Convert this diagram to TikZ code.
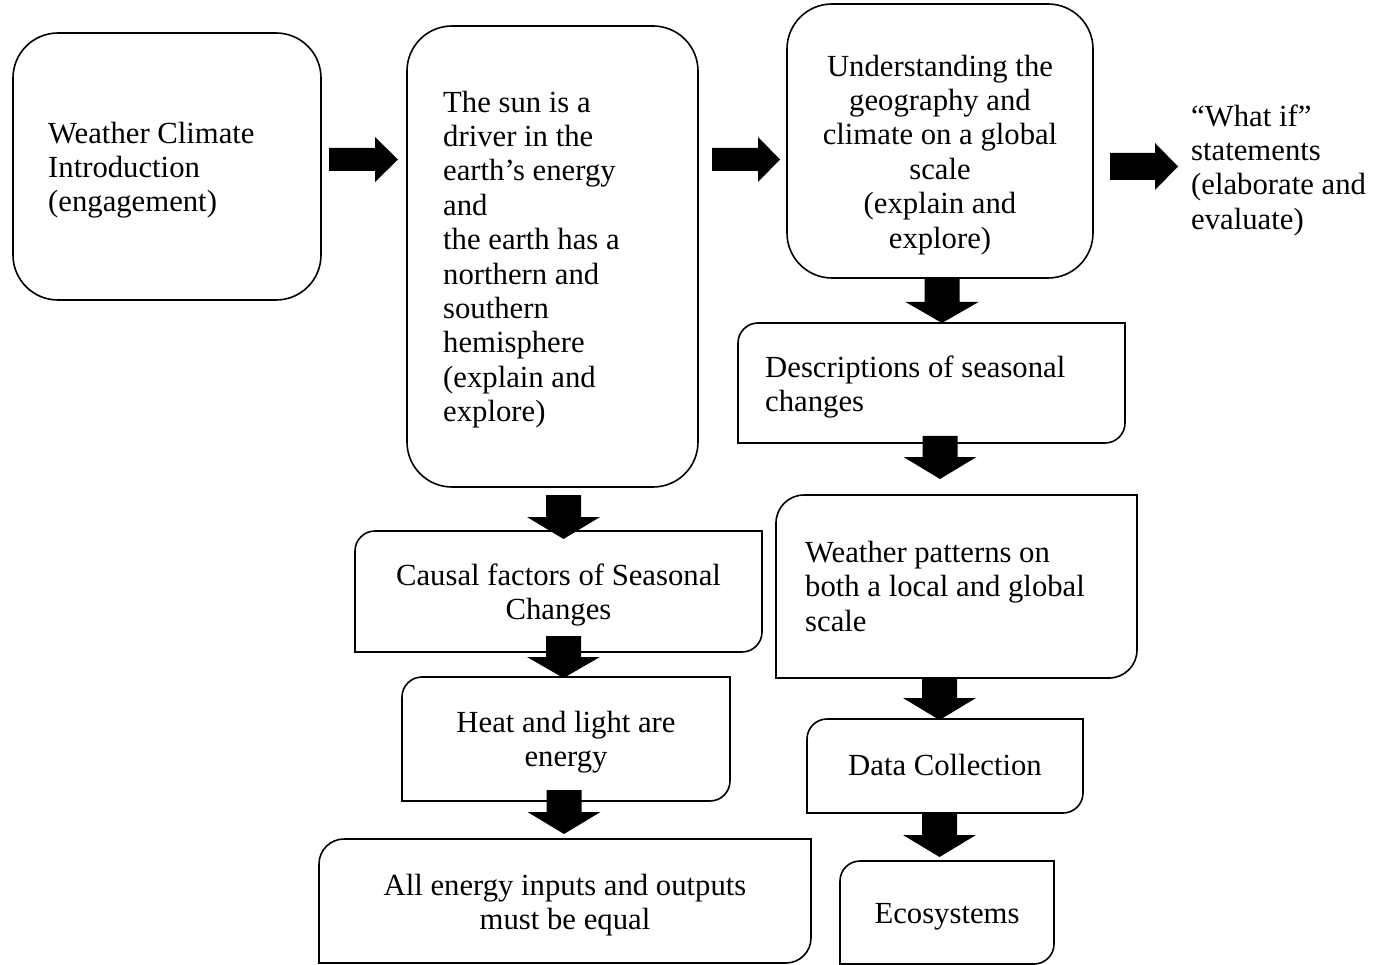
\documentclass[tikz,border=0pt]{standalone}
\usepackage{fontspec}
\setmainfont{Liberation Serif}
\tikzset{
  boxline/.style={draw=black, line width=1.6pt},
  txt/.style={inner sep=0pt, font=\fontsize{30.7}{34.4}\selectfont, text=black},
  arrowfill/.style={fill=black},
}
% box with rounded top-left and bottom-right corners
\newcommand\diagbox[5]{%
  \draw[boxline] (#1,#4) -- (#1,{#2+#5}) .. controls (#1,{#2+0.448*#5}) and ({#1+0.448*#5},#2) .. ({#1+#5},#2)
    -- (#3,#2) -- (#3,{#4-#5}) .. controls (#3,{#4-0.448*#5}) and ({#3-0.448*#5},#4) .. ({#3-#5},#4) -- cycle;}
% block arrow pointing down: xc, ytop, yhead, ytip
\newcommand\blkdown[4]{%
  \fill[arrowfill] ({#1-17.5},#2) -- ({#1+17.5},#2) -- ({#1+17.5},#3) -- ({#1+36.5},#3) -- (#1,#4)
    -- ({#1-36.5},#3) -- ({#1-17.5},#3) -- cycle;}
% block arrow pointing right: xs, xh, xt, yc, shaft half, head half
\newcommand\blkright[6]{%
  \fill[arrowfill] (#1,{#4-#5}) -- (#2,{#4-#5}) -- (#2,{#4-#6}) -- (#3,#4) -- (#2,{#4+#6})
    -- (#2,{#4+#5}) -- (#1,{#4+#5}) -- cycle;}
\begin{document}
\begin{tikzpicture}[x=1pt,y=-1pt]
\useasboundingbox[fill=white] (0,0) rectangle (1379,965);

% large rounded boxes
\draw[boxline, rounded corners=45pt] (13,33) rectangle (321,300);
\draw[boxline, rounded corners=45pt] (407,26) rectangle (698,487);
\draw[boxline, rounded corners=45pt] (787,4) rectangle (1093,278);

% diagonal-rounded boxes
\diagbox{355}{531}{762}{652}{20}
\diagbox{402}{677}{730}{801}{20}
\diagbox{319}{839}{811}{963}{25}
\diagbox{738}{323}{1125}{443}{20}
\diagbox{776}{495}{1137}{678}{28}
\diagbox{807}{719}{1083}{813}{20}
\diagbox{840}{861}{1054}{964}{20}

% texts
\node[txt, anchor=north west, align=left] (intro) at (48,119)
  {\rule{0pt}{24pt}Weather Climate\\Introduction\\(engagement)};
\node[txt, anchor=north west, align=left] (sun) at (443,88)
  {\rule{0pt}{24pt}The sun is a\\driver in the\\earth’s energy\\and\\the earth has a\\northern and\\southern\\hemisphere\\(explain and\\explore)};
\node[txt, anchor=north, align=center] (geo) at (940,52)
  {\rule{0pt}{24pt}Understanding the\\geography and\\climate on a global\\scale\\(explain and\\explore)};
\node[txt, anchor=north west, align=left] (whatif) at (1191,102)
  {\rule{0pt}{24pt}“What if”\\statements\\(elaborate and\\evaluate)};
\node[txt, anchor=north, align=center] (causal) at (558.5,561)
  {\rule{0pt}{24pt}Causal factors of Seasonal\\Changes};
\node[txt, anchor=north, align=center] (heat) at (566,708)
  {\rule{0pt}{24pt}Heat and light are\\energy};
\node[txt, anchor=north, align=center] (allen) at (565,871)
  {\rule{0pt}{24pt}All energy inputs and outputs\\must be equal};
\node[txt, anchor=north west, align=left] (desc) at (765,353)
  {\rule{0pt}{24pt}Descriptions of seasonal\\changes};
\node[txt, anchor=north west, align=left] (wpat) at (805,538)
  {\rule{0pt}{24pt}Weather patterns on\\both a local and global\\scale};
\node[txt, anchor=north, align=center] (data) at (945,751)
  {\rule{0pt}{24pt}Data Collection};
\node[txt, anchor=north, align=center] (eco) at (947,899)
  {\rule{0pt}{24pt}Ecosystems};

% right block arrows
\blkright{329}{375}{398}{159.5}{11.5}{22.5}
\blkright{712}{758}{780}{159.5}{11.5}{22.5}
\blkright{1110}{1155}{1178}{166.5}{13.5}{23.5}

% down block arrows
\blkdown{563.5}{495}{517}{539}
\blkdown{563.5}{636}{657}{678}
\blkdown{564}{790}{812}{834}
\blkdown{942}{279}{302}{323}
\blkdown{940}{436}{457}{479}
\blkdown{939.5}{678}{698}{720}
\blkdown{939.5}{813}{835}{857}
\end{tikzpicture}
\end{document}
